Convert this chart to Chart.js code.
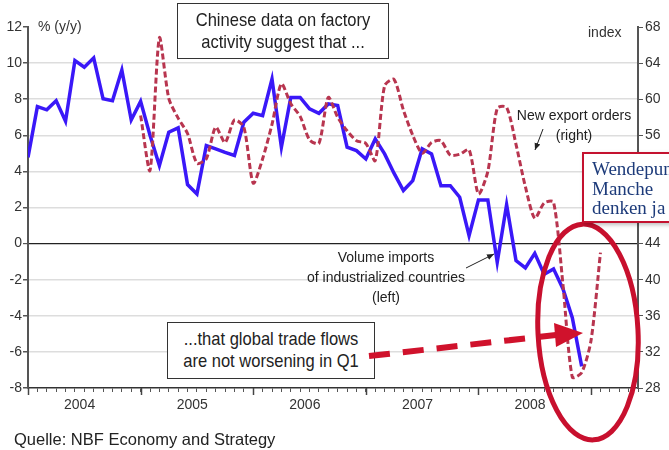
<!DOCTYPE html>
<html>
<head>
<meta charset="utf-8">
<script src="https://cdn.jsdelivr.net/npm/chart.js@4.4.1/dist/chart.umd.min.js"></script>
<style>
  html, body { margin: 0; padding: 0; background: #fff; overflow: hidden; }
  #wrap { position: relative; width: 669px; height: 450px; overflow: hidden; font-family: "Liberation Sans", Arial, sans-serif; }
  #chart { position: absolute; left: 0; top: 0; }
  .note { position: absolute; color: #222; white-space: nowrap; }
  .box { position: absolute; background: #fff; border: 1.5px solid #333; box-sizing: border-box; text-align: center; color: #222; overflow: hidden; }
  .box span { display: block; transform: scaleX(0.87); transform-origin: center; white-space: nowrap; }
  #svg { position: absolute; left: 0; top: 0; pointer-events: none; }
  #wende { position: absolute; left: 582px; top: 152px; width: 120px; height: 71px; box-sizing: border-box;
           border: 2px solid #c4122f; background: #fff; box-shadow: 2px 2px 4px rgba(0,0,0,0.25);
           font-family: "Liberation Serif", "DejaVu Serif", serif; font-size: 19px; line-height: 19.5px;
           color: #1d3b7a; padding: 5px 0 0 8px; white-space: nowrap; }
</style>
</head>
<body>
<div id="wrap">
  <canvas id="chart" width="669" height="450"></canvas>

  <div class="note" style="left:38px; top:18px; font-size:14px; color:#333;">% (y/y)</div>
  <div class="note" style="left:588px; top:24px; font-size:14px; color:#333;">index</div>

  <div class="box" style="left:177px; top:3px; width:212px; height:56px; font-size:19px; line-height:22px; padding-top:5px;"><span>Chinese data on factory</span><span>activity suggest that ...</span></div>

  <div class="box" style="left:167px; top:322px; width:208px; height:57px; font-size:19px; line-height:22px; padding-top:5px;"><span>...that global trade flows</span><span>are not worsening in Q1</span></div>

  <div class="note" style="left:300px; top:247px; width:172px; text-align:center; font-size:14px; line-height:20px;">Volume imports<br>of industrialized countries<br>(left)</div>

  <div class="note" style="left:512px; top:105px; width:124px; text-align:center; font-size:14px; line-height:20px;">New export orders<br>(right)</div>

  <svg id="svg" width="669" height="450">
    <defs>
      <marker id="ah" markerWidth="8" markerHeight="8" refX="7" refY="4" orient="auto" markerUnits="userSpaceOnUse">
        <path d="M0,1 L7,4 L0,7 Z" fill="#222"/>
      </marker>
    </defs>
    <line x1="466" y1="268" x2="494" y2="254" stroke="#222" stroke-width="1" marker-end="url(#ah)"/>
    <line x1="543" y1="129" x2="535" y2="150" stroke="#222" stroke-width="1" marker-end="url(#ah)"/>
    <line x1="369" y1="356" x2="556" y2="335" stroke="#d0122c" stroke-width="6" stroke-dasharray="21 13"/>
    <polygon points="554,323 583,333 556,347" fill="#d0122c"/>
    <ellipse cx="588" cy="332" rx="50" ry="108" fill="none" stroke="#c8102e" stroke-width="5" transform="rotate(-3 588 332)"/>
  </svg>

  <div id="wende">Wendepunkt?<br>Manche<br>denken ja</div>

  <div class="note" style="left:14px; top:430px; font-size:16.5px; color:#222;">Quelle: NBF Economy and Strategy</div>
</div>

<script>
// year labels on the x axis (one per calendar year, monthly data from Jan 2004)
const years = ["2004", "2005", "2006", "2007", "2008"];

// Volume imports of industrialized countries, % y/y (left axis), Jan 2004 onward
const importsYoY = [
  4.78, 7.59, 7.41, 7.92, 6.78, 10.14, 9.77, 10.29, 8.02, 7.92, 9.62, 6.85,
  7.88, 6.0, 4.32, 6.17, 6.41, 3.27, 2.75, 5.43, 5.25, 5.05, 4.88, 6.72,
  7.22, 7.09, 9.12, 5.34, 8.1, 8.1, 7.46, 7.22, 7.74, 7.65, 5.34, 5.15,
  4.69, 5.8, 4.97, 3.9, 2.94, 3.49, 5.25, 4.97, 3.21, 3.21, 2.57, 0.44,
  2.42, 2.42, -1.03, 2.16, -0.94, -1.35, -0.54, -1.7, -1.4, -2.5, -4.1, -6.8
];

// Chinese PMI new export orders, index (right axis), Jan 2005 onward
const exportOrdersStart = 12;
const exportOrders = [
  58.2, 52.1, 66.8, 60.1, 57.9, 56.2, 52.9, 53.4, 56.9, 55.2, 57.7, 56.9,
  50.7, 53.4, 57.2, 61.7, 59.5, 58.1, 55.5, 55.1, 60.2, 58.0, 56.5, 55.4,
  55.1, 53.2, 61.5, 62.2, 58.8, 56.0, 54.0, 55.2, 55.4, 53.8, 53.9, 54.4,
  49.5, 52.0, 59.0, 59.1, 55.0, 50.3, 46.8, 48.5, 48.6, 39.5, 29.2, 29.7,
  33.3, 43.0
];

const leftTicks = { min: -8, max: 12, step: 2 };
const rightTicks = { min: 28, max: 68, step: 4 };
const monthsShown = 65;

const importsPts = importsYoY.map((v, i) => ({ x: i, y: v }));
const ordersPts = exportOrders.map((v, i) => ({ x: exportOrdersStart + i, y: v }));

const axisFont = { family: "'Liberation Sans', Arial, sans-serif", size: 14 };

// longer tick marks at the start of each year
const yearTicks = {
  id: "yearTicks",
  afterDraw(chart) {
    const x = chart.scales.x, c = chart.ctx;
    c.save();
    c.strokeStyle = "#444";
    c.lineWidth = 1.5;
    for (let m = 0; m <= monthsShown; m += 12) {
      const px = Math.round(x.getPixelForValue(m)) + 0.5;
      c.beginPath();
      c.moveTo(px, x.top);
      c.lineTo(px, x.top + 7);
      c.stroke();
    }
    c.restore();
  },
};

new Chart(document.getElementById("chart"), {
  type: "line",
  data: {
    datasets: [
      {
        label: "New export orders (right)",
        data: ordersPts,
        yAxisID: "y2",
        borderColor: "#b8354f",
        borderWidth: 3,
        borderDash: [6, 3],
        pointRadius: 0,
        tension: 0.25,
        fill: false,
      },
      {
        label: "Volume imports of industrialized countries (left)",
        data: importsPts,
        yAxisID: "y",
        borderColor: "#3a18f8",
        borderWidth: 3.5,
        pointRadius: 0,
        tension: 0,
        fill: false,
      },
    ],
  },
  options: {
    responsive: false,
    animation: false,
    devicePixelRatio: 1,
    layout: { padding: { top: 27, left: 0, right: 0, bottom: 0 } },
    plugins: { legend: { display: false }, tooltip: { enabled: false } },
    scales: {
      x: {
        type: "linear",
        min: 0,
        max: monthsShown,
        afterBuildTicks(scale) {
          const t = [];
          for (let m = 0; m <= monthsShown; m++) t.push({ value: m });
          years.forEach((y, i) => t.push({ value: i * 12 + 5.5 }));
          t.sort((a, b) => a.value - b.value);
          scale.ticks = t;
        },
        afterFit(scale) { scale.height = 62; },
        ticks: {
          autoSkip: false,
          maxRotation: 0,
          padding: 5,
          color: "#333",
          font: axisFont,
          callback: (v) => (Number.isInteger(v) ? "" : years[Math.floor(v / 12)]),
        },
        grid: {
          drawOnChartArea: false,
          drawTicks: true,
          tickLength: 4,
          tickColor: (ctx) => (ctx.tick && Number.isInteger(ctx.tick.value) ? "#555" : "rgba(0,0,0,0)"),
        },
        border: { display: true, color: "#333", width: 1.5 },
      },
      y: {
        position: "left",
        min: leftTicks.min,
        max: leftTicks.max,
        afterFit(scale) { scale.width = 28; },
        ticks: { stepSize: leftTicks.step, padding: 1, color: "#333", font: axisFont },
        grid: {
          color: (ctx) => {
            const v = ctx.tick.value;
            if (v === 0) return "#222";
            if (v === leftTicks.max || v === leftTicks.min) return "rgba(0,0,0,0)";
            return "#dddddd";
          },
          lineWidth: (ctx) => (ctx.tick.value === 0 ? 1.2 : 1.5),
          tickColor: "#555",
          tickLength: 5,
        },
        border: { display: true, color: "#555", width: 2 },
      },
      y2: {
        position: "right",
        min: rightTicks.min,
        max: rightTicks.max,
        afterFit(scale) { scale.width = 31; },
        ticks: { stepSize: rightTicks.step, padding: 2, color: "#333", font: axisFont },
        grid: { drawOnChartArea: false, tickColor: "#555", tickLength: 5 },
        border: { display: true, color: "#555", width: 2 },
      },
    },
  },
  plugins: [yearTicks],
});
</script>
</body>
</html>
